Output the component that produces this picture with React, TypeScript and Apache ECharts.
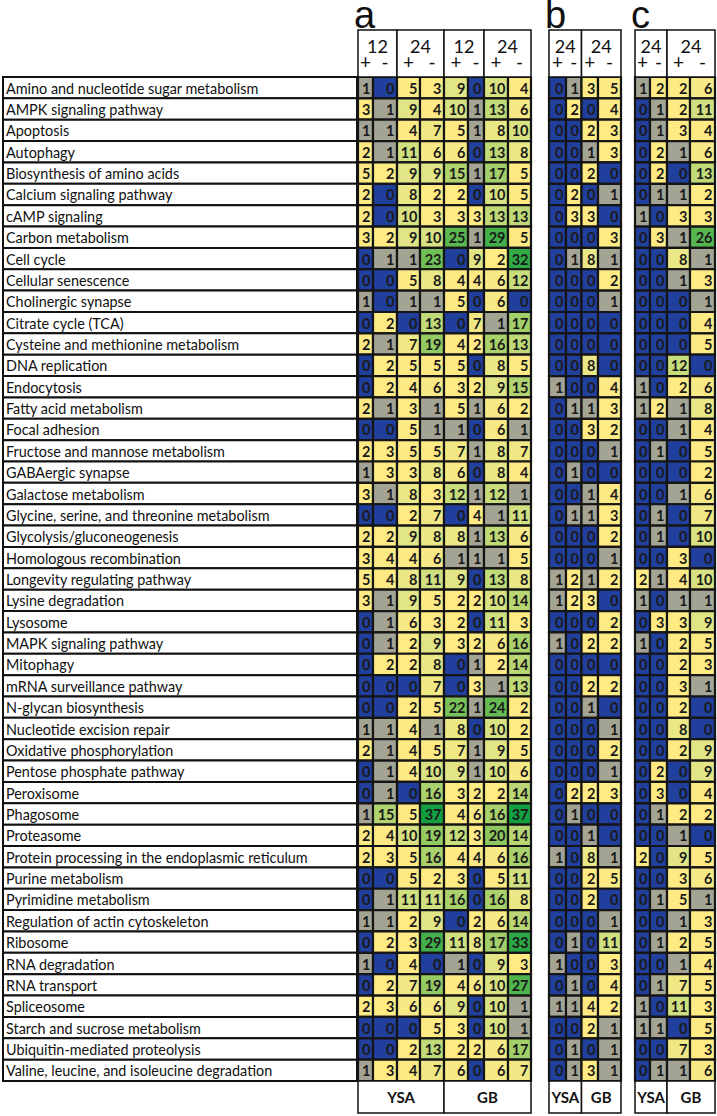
import React, { useEffect, useRef } from 'react';
import * as echarts from 'echarts';

const pathways = [
  'Amino and nucleotide sugar metabolism',
  'AMPK signaling pathway',
  'Apoptosis',
  'Autophagy',
  'Biosynthesis of amino acids',
  'Calcium signaling pathway',
  'cAMP signaling',
  'Carbon metabolism',
  'Cell cycle',
  'Cellular senescence',
  'Cholinergic synapse',
  'Citrate cycle (TCA)',
  'Cysteine and methionine metabolism',
  'DNA replication',
  'Endocytosis',
  'Fatty acid metabolism',
  'Focal adhesion',
  'Fructose and mannose metabolism',
  'GABAergic synapse',
  'Galactose metabolism',
  'Glycine, serine, and threonine metabolism',
  'Glycolysis/gluconeogenesis',
  'Homologous recombination',
  'Longevity regulating pathway',
  'Lysine degradation',
  'Lysosome',
  'MAPK signaling pathway',
  'Mitophagy',
  'mRNA surveillance pathway',
  'N-glycan biosynthesis',
  'Nucleotide excision repair',
  'Oxidative phosphorylation',
  'Pentose phosphate pathway',
  'Peroxisome',
  'Phagosome',
  'Proteasome',
  'Protein processing in the endoplasmic reticulum',
  'Purine metabolism',
  'Pyrimidine metabolism',
  'Regulation of actin cytoskeleton',
  'Ribosome',
  'RNA degradation',
  'RNA transport',
  'Spliceosome',
  'Starch and sucrose metabolism',
  'Ubiquitin-mediated proteolysis',
  'Valine, leucine, and isoleucine degradation',
];

// Panel a: YSA 12+,12-,24+,24- | GB 12+,12-,24+,24-
const panelA = [
  [1, 0, 5, 3, 9, 0, 10, 4],
  [3, 1, 9, 4, 10, 1, 13, 6],
  [1, 1, 4, 7, 5, 1, 8, 10],
  [2, 1, 11, 6, 6, 0, 13, 8],
  [5, 2, 9, 9, 15, 1, 17, 5],
  [2, 0, 8, 2, 2, 0, 10, 5],
  [2, 0, 10, 3, 3, 3, 13, 13],
  [3, 2, 9, 10, 25, 1, 29, 5],
  [0, 1, 1, 23, 0, 9, 2, 32],
  [0, 0, 5, 8, 4, 4, 6, 12],
  [1, 0, 1, 1, 5, 0, 6, 0],
  [0, 2, 0, 13, 0, 7, 1, 17],
  [2, 1, 7, 19, 4, 2, 16, 13],
  [0, 2, 5, 5, 5, 0, 8, 5],
  [0, 2, 4, 6, 3, 2, 9, 15],
  [2, 1, 3, 1, 5, 1, 6, 2],
  [0, 0, 5, 1, 1, 0, 6, 1],
  [2, 3, 5, 5, 7, 1, 8, 7],
  [1, 3, 3, 8, 6, 0, 8, 4],
  [3, 1, 8, 3, 12, 1, 12, 1],
  [0, 0, 2, 7, 0, 4, 1, 11],
  [2, 2, 9, 8, 8, 1, 13, 6],
  [3, 4, 4, 6, 1, 1, 1, 5],
  [5, 4, 8, 11, 9, 0, 13, 8],
  [3, 1, 9, 5, 2, 2, 10, 14],
  [0, 1, 6, 3, 2, 0, 11, 3],
  [0, 1, 2, 9, 3, 2, 6, 16],
  [0, 2, 2, 8, 0, 1, 2, 14],
  [0, 0, 0, 7, 0, 3, 1, 13],
  [0, 0, 2, 5, 22, 1, 24, 2],
  [1, 1, 4, 1, 8, 0, 10, 2],
  [2, 1, 4, 5, 7, 1, 9, 5],
  [0, 1, 4, 10, 9, 1, 10, 6],
  [0, 1, 0, 16, 3, 2, 2, 14],
  [1, 15, 5, 37, 4, 6, 16, 37],
  [2, 4, 10, 19, 12, 3, 20, 14],
  [2, 3, 5, 16, 4, 4, 6, 16],
  [0, 0, 5, 2, 3, 0, 5, 11],
  [0, 1, 11, 11, 16, 0, 16, 8],
  [1, 1, 2, 9, 0, 2, 6, 14],
  [0, 2, 3, 29, 11, 8, 17, 33],
  [1, 0, 4, 0, 1, 0, 9, 3],
  [0, 2, 7, 19, 4, 6, 10, 27],
  [2, 3, 6, 6, 9, 0, 10, 1],
  [0, 0, 0, 5, 3, 0, 10, 1],
  [0, 0, 2, 13, 2, 2, 6, 17],
  [1, 3, 4, 7, 6, 0, 6, 7],
];

// Panel b: YSA 24+,24- | GB 24+,24-
const panelB = [
  [0, 1, 3, 5], [0, 2, 0, 4], [0, 0, 2, 3], [0, 0, 1, 3], [0, 0, 2, 0],
  [0, 2, 0, 1], [0, 3, 3, 0], [0, 0, 0, 3], [0, 1, 8, 1], [0, 0, 0, 2],
  [0, 0, 0, 1], [0, 0, 0, 0], [0, 0, 0, 0], [0, 0, 8, 0], [1, 0, 0, 4],
  [0, 1, 1, 3], [0, 0, 3, 2], [0, 0, 0, 1], [0, 1, 0, 0], [0, 0, 1, 4],
  [0, 1, 1, 3], [0, 0, 0, 2], [0, 0, 0, 1], [1, 2, 1, 2], [1, 2, 3, 0],
  [0, 0, 0, 2], [1, 0, 2, 2], [0, 0, 0, 0], [0, 0, 2, 2], [0, 0, 1, 0],
  [0, 0, 0, 1], [0, 0, 0, 2], [0, 0, 0, 1], [0, 2, 2, 3], [0, 1, 0, 0],
  [0, 0, 1, 0], [1, 0, 8, 1], [0, 0, 2, 5], [0, 0, 2, 0], [0, 0, 0, 1],
  [0, 1, 0, 11], [1, 0, 0, 3], [0, 1, 0, 4], [1, 1, 4, 2], [0, 0, 2, 1],
  [0, 1, 0, 1], [0, 1, 3, 1],
];

// Panel c: YSA 24+,24- | GB 24+,24-
const panelC = [
  [1, 2, 2, 6], [0, 1, 2, 11], [0, 1, 3, 4], [0, 2, 1, 6], [0, 2, 0, 13],
  [0, 1, 1, 2], [1, 0, 3, 3], [0, 3, 1, 26], [0, 0, 8, 1], [0, 0, 1, 3],
  [0, 0, 0, 1], [0, 0, 0, 4], [0, 0, 0, 5], [0, 0, 12, 0], [1, 0, 2, 6],
  [1, 2, 1, 8], [0, 0, 1, 4], [0, 1, 0, 5], [0, 0, 0, 2], [0, 0, 1, 6],
  [0, 1, 0, 7], [0, 1, 0, 10], [0, 0, 3, 0], [2, 1, 4, 10], [1, 0, 1, 1],
  [0, 3, 3, 9], [1, 0, 2, 5], [0, 0, 2, 3], [0, 0, 3, 1], [0, 0, 2, 0],
  [0, 0, 8, 0], [0, 0, 2, 9], [0, 2, 0, 9], [0, 3, 0, 4], [0, 1, 2, 2],
  [0, 0, 1, 0], [2, 0, 9, 5], [0, 0, 3, 6], [0, 1, 5, 1], [0, 0, 1, 3],
  [0, 1, 2, 5], [0, 0, 1, 4], [0, 1, 7, 5], [1, 0, 11, 3], [1, 1, 0, 5],
  [0, 0, 7, 3], [0, 1, 1, 6],
];

const hoursA = ['12', '24', '12', '24'];
const hoursB = ['24', '24'];
const hoursC = ['24', '24'];
const signs = ['+', '-'];
const groups = ['YSA', 'GB'];

// ---------- layout ----------
const ROW_TOP = 77;
const ROW_H = 1004;
const HEAD_TOP = 30;
const FOOT_TOP = 1081;
const FOOT_BOTTOM = 1113;
const LABEL_LEFT = 3;
const LABEL_RIGHT = 357;
const FONT = 'Lato, "Open Sans", sans-serif';

const panels = [
  { letter: 'a', left: 358, edges: [0, 15, 39, 62, 86, 110, 126, 150, 173], data: panelA, hours: hoursA },
  { letter: 'b', left: 549, edges: [0, 17, 32.5, 49, 72], data: panelB, hours: hoursB },
  { letter: 'c', left: 635, edges: [0, 15, 32, 55, 80], data: panelC, hours: hoursC },
];

const ZERO_COLOR = '#213F9C';
const ONE_COLOR = '#A4A494';
const scaleStops: [number, string][] = [
  [2, '#FFEB84'],
  [5, '#FDEA84'],
  [8, '#EAE786'],
  [10, '#D8E283'],
  [13, '#C0DA78'],
  [16, '#A9D16C'],
  [20, '#8DC75F'],
  [25, '#5CB850'],
  [37, '#13A040'],
];

function hex(c: string) {
  return [1, 3, 5].map((i) => parseInt(c.slice(i, i + 2), 16));
}
function cellColor(v: number) {
  if (v === 0) return ZERO_COLOR;
  if (v === 1) return ONE_COLOR;
  if (v <= scaleStops[0][0]) return scaleStops[0][1];
  for (let i = 1; i < scaleStops.length; i++) {
    if (v <= scaleStops[i][0]) {
      const [v0, c0] = scaleStops[i - 1];
      const [v1, c1] = scaleStops[i];
      const t = (v - v0) / (v1 - v0);
      const a = hex(c0), b = hex(c1);
      const m = a.map((x, k) => Math.round(x + (b[k] - x) * t));
      return 'rgb(' + m.join(',') + ')';
    }
  }
  return scaleStops[scaleStops.length - 1][1];
}

function buildOption() {
  const grids: any[] = [];
  const xAxes: any[] = [];
  const yAxes: any[] = [];
  const series: any[] = [];
  const graphics: any[] = [];

  // label grid
  grids.push({ left: LABEL_LEFT, top: ROW_TOP, width: LABEL_RIGHT - LABEL_LEFT, height: ROW_H });
  xAxes.push({ type: 'value', gridIndex: 0, min: 0, max: 1, show: false });
  yAxes.push({ type: 'category', gridIndex: 0, data: pathways, inverse: true, show: false });
  series.push({
    type: 'custom',
    xAxisIndex: 0,
    yAxisIndex: 0,
    clip: false,
    data: pathways.map((_, i) => [0, i]),
    renderItem: (params: any, api: any) => {
      const i = api.value(1);
      const p0 = api.coord([0, i]);
      const p1 = api.coord([1, i]);
      const h = api.size([0, 1])[1];
      return {
        type: 'group',
        children: [
          {
            type: 'rect',
            shape: { x: p0[0], y: p0[1] - h / 2, width: p1[0] - p0[0], height: h },
            style: { fill: '#fff', stroke: '#111', lineWidth: 2 },
          },
          {
            type: 'text',
            style: {
              text: pathways[i],
              x: p0[0] + 3,
              y: p0[1] + 0.5,
              align: 'left',
              verticalAlign: 'middle',
              font: '14.4px ' + FONT,
              fill: '#111',
            },
          },
        ],
      };
    },
  });

  panels.forEach((pn, pi) => {
    const gi = pi + 1;
    const total = pn.edges[pn.edges.length - 1];
    grids.push({ left: pn.left, top: ROW_TOP, width: total, height: ROW_H });
    xAxes.push({ type: 'value', gridIndex: gi, min: 0, max: total, show: false });
    yAxes.push({ type: 'category', gridIndex: gi, data: pathways, inverse: true, show: false });
    const items: number[][] = [];
    pn.data.forEach((row, r) => row.forEach((v, c) => items.push([c, r, v])));
    const edges = pn.edges;
    series.push({
      type: 'custom',
      xAxisIndex: gi,
      yAxisIndex: gi,
      clip: false,
      data: items,
      renderItem: (params: any, api: any) => {
        const c = api.value(0);
        const r = api.value(1);
        const v = api.value(2);
        const p0 = api.coord([edges[c], r]);
        const p1 = api.coord([edges[c + 1], r]);
        const h = api.size([0, 1])[1];
        return {
          type: 'group',
          children: [
            {
              type: 'rect',
              shape: { x: p0[0], y: p0[1] - h / 2, width: p1[0] - p0[0], height: h },
              style: { fill: cellColor(v), stroke: '#151515', lineWidth: 2.2 },
            },
            {
              type: 'text',
              style: {
                text: String(v),
                x: p1[0] - 2.5,
                y: p0[1] + 0.5,
                align: 'right',
                verticalAlign: 'middle',
                font: 'bold 14.5px ' + FONT,
                fill: '#1a1a1a',
              },
            },
          ],
        };
      },
    });

    // header boxes
    const nPairs = pn.hours.length;
    for (let k = 0; k < nPairs; k++) {
      const x0 = pn.left + edges[2 * k];
      const x1 = pn.left + edges[2 * k + 2];
      graphics.push({
        type: 'rect',
        shape: { x: x0, y: HEAD_TOP, width: x1 - x0, height: ROW_TOP - HEAD_TOP },
        style: { fill: '#fff', stroke: '#111', lineWidth: 1.5 },
        z: 10,
      });
      graphics.push({
        type: 'text',
        x: (x0 + x1) / 2,
        y: 46,
        style: { text: pn.hours[k], align: 'center', verticalAlign: 'middle', font: '18px ' + FONT, fill: '#111' },
        z: 11,
      });
      for (let s = 0; s < 2; s++) {
        const cx0 = pn.left + edges[2 * k + s];
        const cx1 = pn.left + edges[2 * k + s + 1];
        graphics.push({
          type: 'text',
          x: (cx0 + cx1) / 2,
          y: 61,
          style: { text: signs[s], align: 'center', verticalAlign: 'middle', font: '19px ' + FONT, fill: '#111' },
          z: 11,
        });
      }
    }
    // footer boxes
    const half = edges.length - 1;
    const mid = half / 2;
    for (let g = 0; g < 2; g++) {
      const x0 = pn.left + edges[g * mid];
      const x1 = pn.left + edges[(g + 1) * mid];
      graphics.push({
        type: 'rect',
        shape: { x: x0, y: FOOT_TOP, width: x1 - x0, height: FOOT_BOTTOM - FOOT_TOP },
        style: { fill: '#fff', stroke: '#111', lineWidth: 1.5 },
        z: 10,
      });
      graphics.push({
        type: 'text',
        x: (x0 + x1) / 2,
        y: (FOOT_TOP + FOOT_BOTTOM) / 2,
        style: { text: groups[g], align: 'center', verticalAlign: 'middle', font: 'bold 15px ' + FONT, fill: '#111' },
        z: 11,
      });
    }
    // panel letter
    graphics.push({
      type: 'text',
      x: pn.left - 4,
      y: 15,
      style: { text: pn.letter, align: 'left', verticalAlign: 'middle', font: '38px "Liberation Sans", Arial, sans-serif', fill: '#111' },
      z: 11,
    });
  });

  return {
    animation: false,
    backgroundColor: '#fff',
    grid: grids,
    xAxis: xAxes,
    yAxis: yAxes,
    series,
    graphic: graphics,
  };
}

export default function App() {
  const ref = useRef<HTMLDivElement>(null);
  useEffect(() => {
    if (!ref.current) return;
    const chart = echarts.init(ref.current, undefined, { renderer: 'svg' });
    chart.setOption(buildOption() as any);
    return () => chart.dispose();
  }, []);
  return (
    <div
      ref={ref}
      style={{ position: 'absolute', left: 0, top: 0, width: 717, height: 1116, background: '#fff' }}
    />
  );
}
